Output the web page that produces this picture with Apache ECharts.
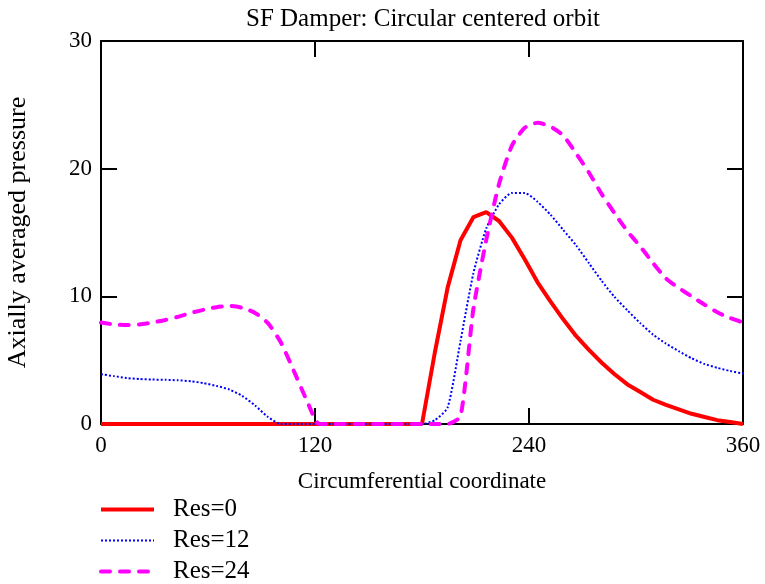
<!DOCTYPE html>
<html>
<head>
<meta charset="utf-8">
<script src="https://cdn.jsdelivr.net/npm/echarts@6/dist/echarts.min.js"></script>
<style>
  html, body { margin: 0; padding: 0; background: #fff; }
  #chart { width: 765px; height: 584px; }
</style>
</head>
<body>
<div id="chart"></div>
<script>
// angle grid, step 7.2 deg (0..360)
const angles = [];
for (let i = 0; i <= 50; i++) angles.push(+(i * 7.2).toFixed(1));

const xTicks = [0, 120, 240, 360];
const yTicks = [0, 10, 20, 30];

// Res=0
const res0 = [
  0, 0, 0, 0, 0, 0, 0, 0, 0, 0,
  0, 0, 0, 0, 0, 0, 0, 0, 0, 0,
  0, 0, 0, 0, 0, 0, 5.6, 10.7, 14.4, 16.2,
  16.6, 15.9, 14.6, 12.9, 11.1, 9.6, 8.2, 6.9, 5.8, 4.8,
  3.9, 3.1, 2.5, 1.9, 1.5, 1.15, 0.8, 0.55, 0.3, 0.15,
  0
];
// Res=12
const res12 = [
  3.9, 3.75, 3.6, 3.52, 3.48, 3.46, 3.42, 3.35, 3.2, 2.98,
  2.7, 2.2, 1.45, 0.55, 0, 0, 0, 0, 0, 0,
  0, 0, 0, 0, 0, 0, 0.3, 1.3, 6.5, 11.8,
  15.3, 17.2, 18.1, 18.1, 17.4, 16.4, 15.2, 14.0, 12.6, 11.2,
  9.95, 8.9, 7.9, 7.0, 6.3, 5.7, 5.15, 4.7, 4.4, 4.15,
  3.95
];
// Res=24
const res24 = [
  7.95, 7.8, 7.75, 7.8, 7.95, 8.15, 8.4, 8.7, 8.95, 9.15,
  9.25, 9.1, 8.7, 7.9, 6.4, 4.2, 1.9, 0, 0, 0,
  0, 0, 0, 0, 0, 0, 0, 0, 0.6, 9.0,
  14.4, 18.8, 21.8, 23.2, 23.6, 23.3, 22.6, 21.2, 19.7, 18.0,
  16.5, 15.1, 13.9, 12.6, 11.4, 10.65, 10.0, 9.35, 8.75, 8.3,
  7.95
];

const font = "Liberation Serif";
const pairs = (ys) => angles.map((a, i) => [a, ys[i]]);

const chart = echarts.init(document.getElementById("chart"));

const frameAxis = {
  min: xTicks[0],
  max: xTicks[xTicks.length - 1],
  interval: 120,
  axisLine: { onZero: false, lineStyle: { color: "#000", width: 2 } },
  axisTick: { inside: true, length: 16, lineStyle: { color: "#000", width: 2 } },
  splitLine: { show: false },
};

const redLine = { color: "#ff0000", width: 4 };
const blueLine = { color: "#0000ff", width: 2, type: [2, 2] };
const pinkLine = { color: "#ff00ff", width: 4, type: [9, 10], cap: "round" };
const legendText = { fontFamily: font, fontSize: 25, color: "#000", lineHeight: 24, padding: [0, 0, 0, 14] };

chart.setOption({
  animation: false,
  backgroundColor: "#fff",
  textStyle: { fontFamily: font },
  title: {
    text: "SF Damper: Circular centered orbit",
    left: 418,
    top: 2,
    textAlign: "center",
    textStyle: { fontFamily: font, fontSize: 25, fontWeight: "normal", color: "#000" },
  },
  grid: { left: 101, right: 22, top: 41, bottom: 160, outerBoundsMode: "none" },
  xAxis: [
    {
      ...frameAxis,
      type: "value",
      position: "bottom",
      name: "Circumferential coordinate",
      nameLocation: "middle",
      nameGap: 46,
      nameTextStyle: { fontFamily: font, fontSize: 23, color: "#000" },
      axisLabel: {
        fontFamily: font, fontSize: 23, color: "#000", margin: 10,
        formatter: (v) => (xTicks.includes(v) ? String(v) : ""),
      },
    },
    {
      ...frameAxis,
      type: "value",
      position: "top",
      axisLabel: { show: false },
    },
  ],
  yAxis: [
    {
      ...frameAxis,
      type: "value",
      min: yTicks[0],
      max: yTicks[yTicks.length - 1],
      interval: 10,
      position: "left",
      name: "Axially averaged pressure",
      nameLocation: "middle",
      nameGap: 70,
      nameTextStyle: { fontFamily: font, fontSize: 26, color: "#000" },
      axisLabel: { fontFamily: font, fontSize: 23, color: "#000", margin: 9 },
    },
    {
      ...frameAxis,
      type: "value",
      min: yTicks[0],
      max: yTicks[yTicks.length - 1],
      interval: 10,
      position: "right",
      axisLabel: { show: false },
    },
  ],
  legend: {
    orient: "vertical",
    left: 99,
    top: 497,
    height: 90,
    padding: 0,
    itemWidth: 53,
    itemHeight: 14,
    itemGap: 6,
    itemStyle: { opacity: 0 },
    textStyle: legendText,
    data: [
      { name: "Res=0", lineStyle: redLine, textStyle: legendText },
      { name: "Res=12", lineStyle: blueLine, textStyle: legendText },
      { name: "Res=24", lineStyle: pinkLine, textStyle: legendText },
    ],
  },
  series: [
    {
      name: "Res=0",
      type: "line",
      data: pairs(res0),
      symbol: "none",
      clip: false,
      lineStyle: redLine,
      itemStyle: { color: "#ff0000" },
    },
    {
      name: "Res=12",
      type: "line",
      data: pairs(res12),
      symbol: "none",
      clip: false,
      smooth: 0.2,
      lineStyle: blueLine,
      itemStyle: { color: "#0000ff" },
    },
    {
      name: "Res=24",
      type: "line",
      data: pairs(res24),
      symbol: "none",
      clip: false,
      smooth: 0.2,
      lineStyle: pinkLine,
      itemStyle: { color: "#ff00ff" },
    },
  ],
});

window.addEventListener("resize", () => chart.resize());
</script>
</body>
</html>
